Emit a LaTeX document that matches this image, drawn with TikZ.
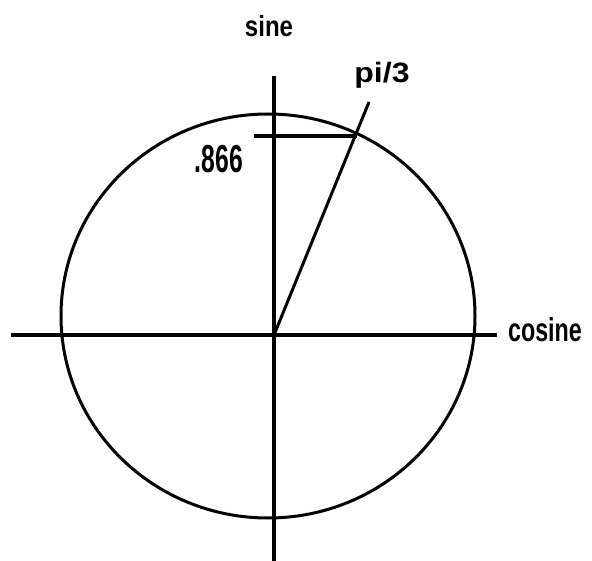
\documentclass[tikz,border=0pt]{standalone}
\usepackage{fontspec}
\setmainfont{Liberation Sans}
\begin{document}
\begin{tikzpicture}[x=1pt, y=-1pt, lbl/.style={inner sep=0pt, anchor=base, font=\bfseries}]
        \useasboundingbox (0,0) rectangle (592,561);
        \coordinate (o) at (274,335);
        \coordinate (xl) at (11,335);
        \coordinate (xr) at (497,335);
        \coordinate (yt) at (274,76);
        \coordinate (yb) at (274,561);
        \coordinate (tl) at (254,136);
        \coordinate (tr) at (357,136);
        \coordinate (lead) at (369,102);
        
        \draw[line width=4pt] (xl) -- (xr);
        \draw[line width=4pt] (yt) -- (yb);
        \draw[line width=3pt] (268,316) ellipse [x radius=207, y radius=202];
        \draw[line width=4pt] (tl) -- (tr);
        \draw[line width=3pt] (o) -- (lead);
        
        \node[lbl] (sine) at (269,37) {\scalebox{2.4}[2.9]{sine}};
        \node[lbl] (cosine) at (545,342) {\scalebox{2.33}[3.3]{cosine}};
        \node[lbl] (angle) at (382,83) {\scalebox{3.2}[2.8]{pi/3}};
        \node[lbl] (val) at (219,173) {\scalebox{2.47}[3.9]{.866}};
    \end{tikzpicture}
\end{document}
